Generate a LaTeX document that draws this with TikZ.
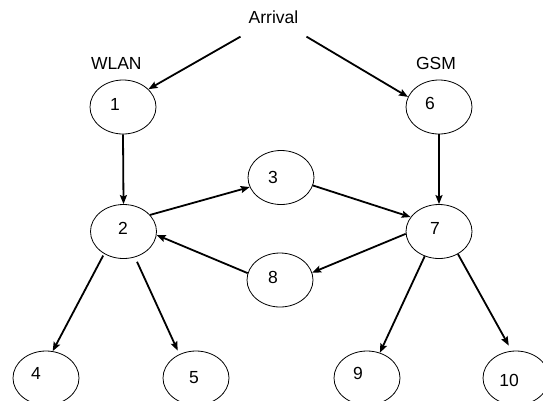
\documentclass[tikz,border=0pt]{standalone}
\usepackage{fontspec}
\setmainfont{Liberation Sans}
\usetikzlibrary{arrows.meta,shapes.geometric}
\begin{document}
\begin{tikzpicture}[x=1pt,y=-1pt,
  state/.style={draw, line width=0.8pt, ellipse, minimum width=66pt, minimum height=54pt, inner sep=0pt},
  lbl/.style={font=\fontsize{17.5}{20}\selectfont, inner sep=0pt},
  link/.style={line width=1.8pt, -{Stealth[length=9pt,width=7pt,inset=1.5pt]}}]
\useasboundingbox (0,0) rectangle (543,400);

% heading and network labels
\node[lbl, inner xsep=8pt, inner ysep=13pt] (arr) at (273.5,17) {Arrival};
\node[lbl] (wlan) at (116.3,63.3) {WLAN};
\node[lbl] (gsm) at (436,63.5) {GSM};

% states
\node[state] (n1) at (123,107) {};
\node[state] (n6) at (439,107) {};
\node[state] (n2) at (123.5,231.5) {};
\node[state] (n3) at (281,177.5) {};
\node[state] (n7) at (439,231.5) {};
\node[state] (n8) at (280,280) {};
\node[state] (n4) at (46,378) {};
\node[state] (n5) at (196,378) {};
\node[state] (n9) at (367,378) {};
\node[state] (n10) at (516,378) {};

% state numbers
\node[lbl] (t1) at (115,104) {1};
\node[lbl] (t6) at (430,103) {6};
\node[lbl] (t2) at (123,228) {2};
\node[lbl] (t3) at (273,177) {3};
\node[lbl] (t7) at (435,228) {7};
\node[lbl] (t8) at (273,277) {8};
\node[lbl] (t4) at (36,373) {4};
\node[lbl] (t5) at (194,378) {5};
\node[lbl] (t9) at (358,373) {9};
\node[lbl] (t10) at (509,380) {10};

% transitions
\draw[link] (arr.south west) -- (n1.35);
\draw[link] (arr.south east) -- (n6.162);
\draw[link] (n1.south) -- (n2.north);
\draw[link] (n6.south) -- (n7.north);
\draw[link] (n2.32) -- (n3.197);
\draw[link] (n3.-14) -- (n7.153);
\draw[link] (n7.184) -- (n8.13);
\draw[link] (n8.168) -- (n2.-6);
\draw[link, shorten <=2pt] (n2.-131) -- (n4.76);
\draw[link, shorten <=5pt, shorten >=4pt] (n2.-66) -- (n5.125);
\draw[link] (n7.-120) -- (n9.63);
\draw[link, shorten >=6pt] (n7.-50) -- (n10.99);
\end{tikzpicture}
\end{document}
